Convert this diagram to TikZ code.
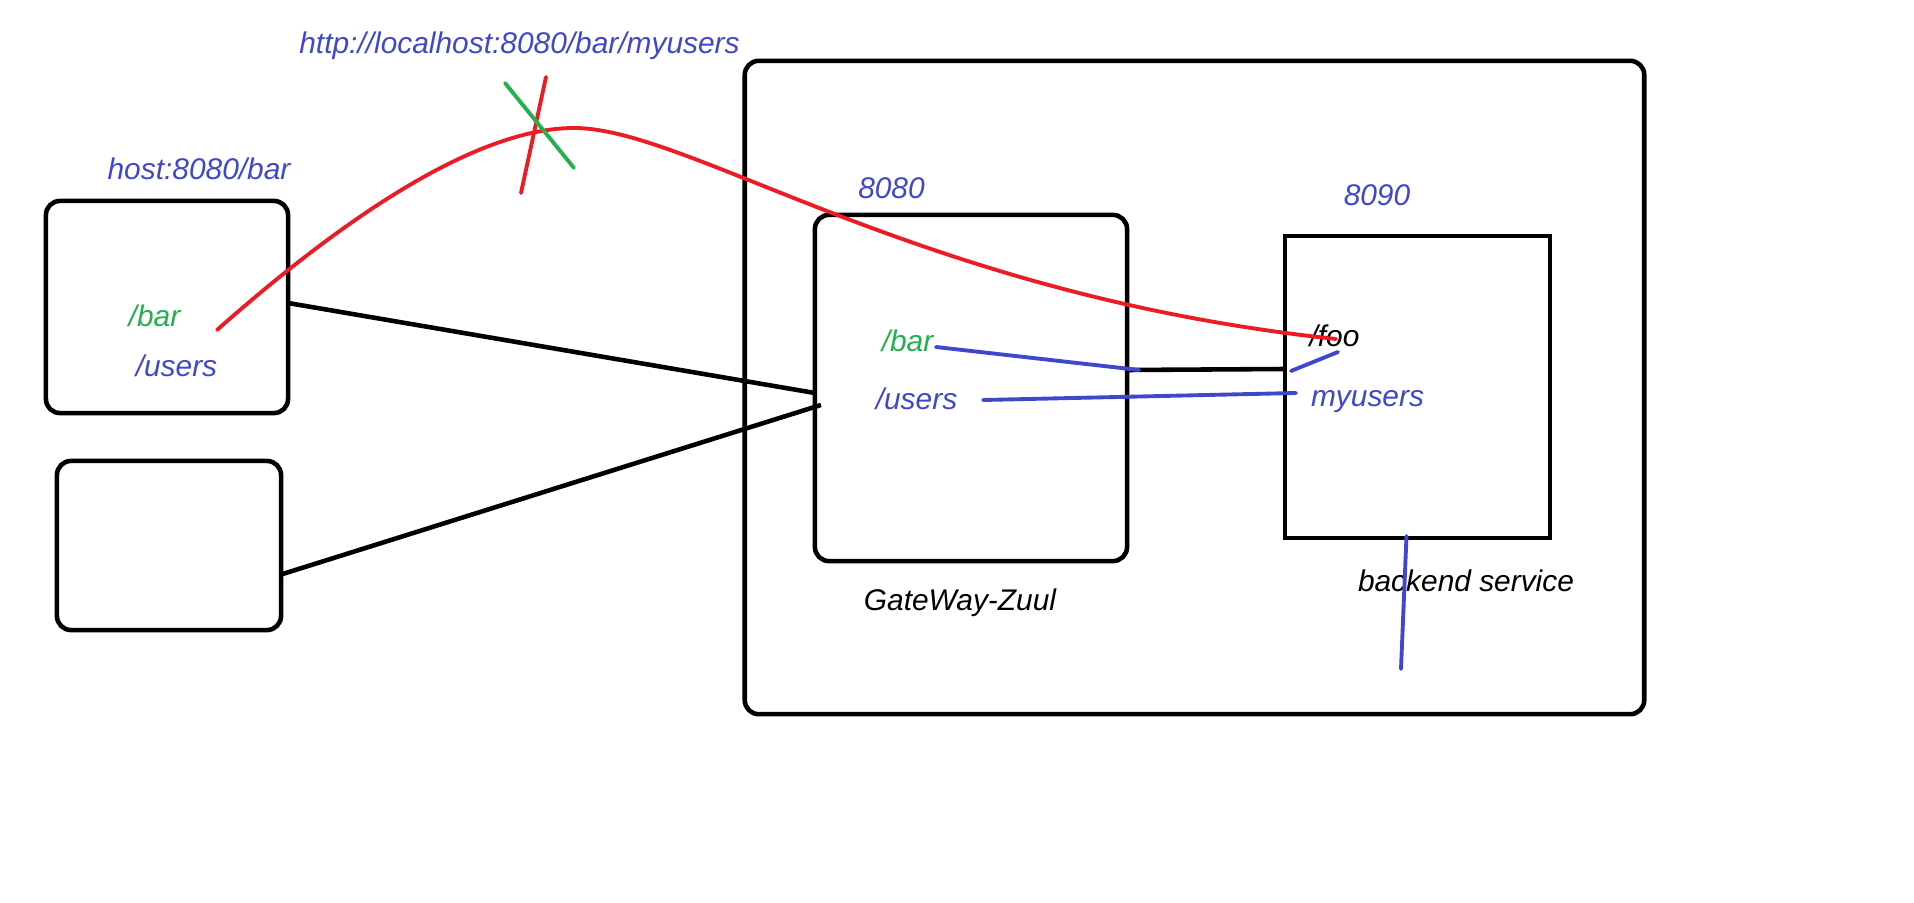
\documentclass[tikz,border=0pt]{standalone}
\usepackage{fontspec}
\setmainfont{Liberation Sans}
\usepackage{tikz}
\usetikzlibrary{positioning}
\definecolor{Ink}{HTML}{3F48CC}
\definecolor{Leaf}{HTML}{22B14C}
\definecolor{Brick}{HTML}{ED1C24}

\begin{document}
\begin{tikzpicture}[x=0.01cm,y=-0.01cm,font=\fontsize{8.5}{10}\selectfont\itshape,
  box/.style={draw,line width=1.3pt,rounded corners=4pt,inner sep=0pt,outer sep=0pt},
  lbl/.style={inner sep=0pt,text height=0.72em,text depth=0pt},
  wire/.style={line width=1.1pt,line cap=round}]
  \useasboundingbox (0,0) rectangle (1914,903);
  % boxes
  \node[box,minimum width=8.99cm,minimum height=6.53cm] (host) at (1194.5,387.5) {};
  \node[box,minimum width=3.12cm,minimum height=3.46cm] (gw) at (971,388) {};
  \node[box,rounded corners=0pt,minimum width=2.65cm,minimum height=3.02cm] (be) at (1417.5,387) {};
  \node[box,minimum width=2.42cm,minimum height=2.12cm] (cl1) at (167,307) {};
  \node[box,minimum width=2.24cm,minimum height=1.69cm] (cl2) at (169,545.5) {};
  % labels
  \node[lbl,Ink] (url) at (519.5,41) {http://localhost:8080/bar/myusers};
  \node[lbl,Ink] (clurl) at (199,167) {host:8080/bar};
  \node[lbl,Leaf] (clbar) at (154.5,314) {/bar};
  \node[lbl,Ink] (clusers) at (176.5,364) {/users};
  \node[lbl,Ink] (gwport) at (891.5,186) {8080};
  \node[lbl,Ink] (beport) at (1377,193) {8090};
  \node[lbl,Leaf] (gwbar) at (907.5,339) {/bar};
  \node[lbl,Ink] (gwusers) at (916.5,397) {/users};
  \node[lbl] (gwname) at (960,598) {GateWay-Zuul};
  \node[lbl] (foo) at (1334.5,334) {/foo};
  \node[lbl,Ink] (myusers) at (1367.5,394) {myusers};
  \node[lbl] (bename) at (1466,579) {backend service};
  % black links
  \draw[line width=1.3pt] ([shift={(0,-4)}]cl1.east) -- ([shift={(0,5)}]gw.west);
  \draw[line width=1.3pt] ([shift={(0,29)}]cl2.east) -- ([shift={(6,17)}]gw.west);
  \draw[line width=1.3pt] ([shift={(0,-18)}]gw.east) -- ([shift={(0,-18)}]be.west);
  % red route
  \coordinate (r0) at (217,330);
  \coordinate (rtop) at (574,128);
  \coordinate (r1) at (1336,339);
  \draw[wire,Brick] (r0) .. controls (330,230) and (470,128) .. (rtop)
    .. controls (690,128) and (920,295) .. (r1);
  % crossed out
  \coordinate (xa) at (546,77); \coordinate (xb) at (521,193);
  \coordinate (xc) at (505,83); \coordinate (xd) at (574,168);
  \draw[wire,Brick] (xa) -- (xb);
  \draw[wire,Leaf] (xc) -- (xd);
  % blue links
  \coordinate (b1) at (1139,370); \coordinate (b2) at (983,400);
  \coordinate (b3) at (1296,393); \coordinate (b4) at (1291,371);
  \coordinate (b5) at (1338,352); \coordinate (b6) at (1401,669);
  \draw[wire,Ink] ([shift={(2,8)}]gwbar.east) -- (b1);
  \draw[wire,Ink] (b2) -- (b3);
  \draw[wire,Ink] (b4) -- (b5);
  \draw[wire,Ink] ([shift={(-11,-2)}]be.south) -- (b6);
\end{tikzpicture}
\end{document}
